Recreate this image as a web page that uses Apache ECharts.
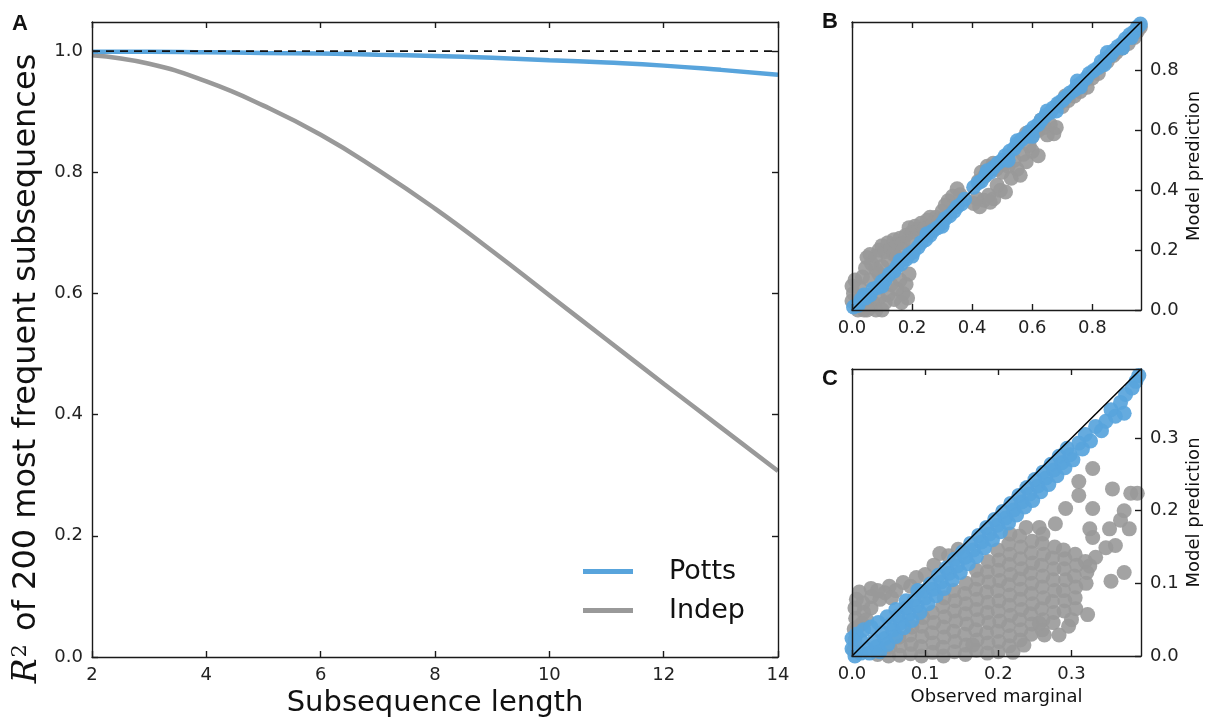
<!DOCTYPE html>
<html><head><meta charset="utf-8">
<script src="https://cdn.jsdelivr.net/npm/echarts@6/dist/echarts.min.js"></script>
<style>html,body{margin:0;padding:0;background:#fff}#c{width:1207px;height:718px}</style>
</head><body><div id="c"></div>
<script>
// ---------- Panel A ----------
const lengths = [2,3,4,5,6,7,8,9,10,11,12,13,14];
const potts = [0.999,0.999,0.998,0.997,0.996,0.994,0.992,0.989,0.985,0.981,0.976,0.969,0.961];
const indep = [0.993,0.979,0.950,0.910,0.862,0.804,0.740,0.670,0.597,0.524,0.451,0.379,0.307];
const refLineA = [[2,1.0],[14,1.0]];
const ticksAX = [2,4,6,8,10,12,14];
const ticksAY = [0,0.2,0.4,0.6,0.8,1.0];

// ---------- Panel B ----------
const ticksB = [0,0.2,0.4,0.6,0.8];
const diagB = [[0,0],[0.962,0.962]];
const grayB = [
[0.0,0.03],[0.005,0.055],[0.0,0.08],[0.015,0.015],[0.02,0.0],[0.04,0.0],[0.06,0.008],[0.03,0.045],[0.05,0.02],[0.08,0.0],[0.07,0.025],[0.01,0.1],[0.025,0.075],
[0.035,0.11],[0.045,0.14],[0.05,0.175],[0.06,0.185],[0.065,0.155],[0.08,0.18],[0.09,0.2],[0.08,0.135],[0.1,0.215],[0.11,0.195],[0.12,0.225],[0.13,0.205],[0.14,0.235],[0.15,0.22],[0.16,0.24],[0.12,0.165],[0.1,0.145],[0.17,0.225],[0.18,0.25],[0.19,0.275],[0.2,0.26],[0.21,0.28],[0.22,0.27],[0.23,0.29],[0.25,0.3],[0.26,0.31],[0.28,0.31],[0.3,0.33],[0.06,0.1],[0.14,0.185],[0.17,0.2],[0.2,0.23],[0.24,0.27],[0.09,0.12],[0.15,0.175],[0.27,0.29],
[0.12,0.05],[0.14,0.035],[0.15,0.07],[0.17,0.055],[0.16,0.1],[0.18,0.085],[0.19,0.12],[0.13,0.085],[0.11,0.025],[0.09,0.04],[0.165,0.025],[0.185,0.04],[0.05,0.0],[0.1,0.0],
[0.32,0.365],[0.35,0.405],[0.36,0.385],[0.335,0.38],[0.31,0.35],[0.29,0.3],
[0.405,0.356],[0.416,0.372],[0.439,0.367],[0.455,0.383],[0.472,0.372],[0.494,0.4],[0.511,0.394],[0.483,0.417],[0.425,0.345],[0.46,0.36],
[0.43,0.46],[0.45,0.48],[0.47,0.49],[0.44,0.445],[0.42,0.43],[0.48,0.47],
[0.5,0.46],[0.52,0.48],[0.54,0.5],[0.55,0.47],[0.57,0.52],[0.58,0.495],[0.6,0.53],[0.62,0.515],[0.53,0.44],[0.56,0.45],[0.51,0.49],[0.59,0.55],
[0.6,0.58],[0.62,0.6],[0.64,0.61],[0.66,0.62],[0.672,0.589],[0.65,0.585],[0.68,0.61],[0.63,0.635],[0.58,0.59],[0.61,0.6],
[0.7,0.68],[0.72,0.7],[0.74,0.715],[0.76,0.73],[0.783,0.744],[0.75,0.74],[0.8,0.775],[0.82,0.79],[0.78,0.77],[0.85,0.83],[0.87,0.85],[0.88,0.86],[0.9,0.875],[0.92,0.89],[0.94,0.91],[0.95,0.93],[0.96,0.945],[0.83,0.815],[0.69,0.69],[0.71,0.715]
];
const blueB = [
[0.005,0.01],[0.02,0.015],[0.03,0.035],[0.045,0.04],[0.06,0.05],[0.07,0.07],[0.085,0.075],[0.1,0.095],[0.11,0.1],[0.125,0.12],[0.14,0.13],[0.15,0.145],[0.165,0.155],[0.18,0.17],[0.19,0.185],[0.205,0.195],[0.22,0.21],[0.23,0.225],[0.245,0.235],[0.26,0.25],[0.27,0.265],[0.285,0.275],[0.3,0.29],[0.31,0.305],[0.325,0.315],[0.34,0.33],[0.35,0.345],[0.365,0.355],[0.375,0.37],
[0.1,0.08],[0.2,0.18],[0.3,0.28],[0.04,0.05],[0.16,0.165],[0.25,0.255],
[0.405,0.41],[0.42,0.425],[0.43,0.43],[0.445,0.45],[0.46,0.46],[0.47,0.475],[0.485,0.49],[0.5,0.5],[0.51,0.515],[0.525,0.53],[0.54,0.54],[0.55,0.555],[0.565,0.57],[0.58,0.58],[0.59,0.595],[0.605,0.61],[0.62,0.62],[0.63,0.635],[0.645,0.65],[0.66,0.66],[0.67,0.675],[0.685,0.69],[0.7,0.7],[0.71,0.71],[0.725,0.725],[0.74,0.735],[0.75,0.75],[0.765,0.76],[0.78,0.775],[0.79,0.79],[0.805,0.8],[0.82,0.81],[0.83,0.83],[0.845,0.84],[0.86,0.85],[0.87,0.865],[0.885,0.88],[0.9,0.89],[0.91,0.905],[0.925,0.92],[0.94,0.93],[0.95,0.945],[0.96,0.955],
[0.52,0.5],[0.6,0.58],[0.68,0.665],[0.76,0.745],[0.84,0.82],[0.9,0.875],[0.93,0.91],
[0.55,0.565],[0.65,0.665],[0.75,0.765],[0.85,0.86],[0.45,0.465]
];

// ---------- Panel C ----------
const ticksC = [0,0.1,0.2,0.3];
const diagC = [[0,0],[0.395,0.395]];
const grayC = [
[0.002,0.008],[0.004,0.022],[0.003,0.037],[0.005,0.052],[0.004,0.066],[0.006,0.078],[0.014,0.045],[0.016,0.06],[0.015,0.073],[0.026,0.066],[0.027,0.082],[0.026,0.093],[0.038,0.078],[0.045,0.087],[0.051,0.096],[0.06,0.09],[0.07,0.101],[0.08,0.096],[0.088,0.108],[0.1,0.112],[0.12,0.141],[0.132,0.138],[0.145,0.147],
[0.01,0.088],[0.035,0.09],[0.02,0.05],[0.008,0.04],[0.054,0.08],[0.112,0.125],
[0.035,0.002],
[0.05,0.0],[0.052,0.012],
[0.065,0.001],[0.066,0.014],[0.064,0.026],
[0.08,0.003],[0.081,0.016],[0.079,0.029],[0.082,0.04],
[0.095,0.0],[0.094,0.013],[0.096,0.027],[0.095,0.041],[0.097,0.053],
[0.11,0.005],[0.111,0.018],[0.109,0.032],[0.112,0.046],[0.11,0.06],
[0.125,0.0],[0.124,0.012],[0.126,0.026],[0.125,0.04],[0.127,0.054],[0.124,0.068],[0.126,0.08],
[0.14,0.006],[0.141,0.02],[0.139,0.034],[0.142,0.048],[0.14,0.062],[0.141,0.076],[0.139,0.09],
[0.155,0.002],[0.156,0.015],[0.154,0.03],[0.157,0.044],[0.155,0.058],[0.156,0.072],[0.154,0.086],[0.156,0.1],
[0.17,0.008],[0.171,0.022],[0.169,0.036],[0.172,0.05],[0.17,0.064],[0.171,0.078],[0.169,0.092],[0.172,0.106],[0.17,0.118],
[0.185,0.004],[0.186,0.018],[0.184,0.032],[0.187,0.046],[0.185,0.06],[0.186,0.074],[0.184,0.088],[0.187,0.102],[0.185,0.116],[0.186,0.13],
[0.2,0.006],[0.201,0.02],[0.199,0.034],[0.202,0.048],[0.2,0.062],[0.201,0.076],[0.199,0.09],[0.202,0.104],[0.2,0.118],[0.201,0.132],[0.199,0.146],
[0.215,0.014],[0.216,0.028],[0.214,0.042],[0.217,0.056],[0.215,0.07],[0.216,0.084],[0.214,0.098],[0.217,0.112],[0.215,0.126],[0.216,0.14],[0.214,0.154],[0.216,0.168],
[0.23,0.022],[0.231,0.036],[0.229,0.05],[0.232,0.064],[0.23,0.078],[0.231,0.092],[0.229,0.106],[0.232,0.12],[0.23,0.134],[0.231,0.15],[0.229,0.165],[0.238,0.177],
[0.245,0.03],[0.246,0.044],[0.244,0.058],[0.247,0.072],[0.245,0.086],[0.246,0.1],[0.244,0.114],[0.247,0.128],[0.245,0.142],[0.246,0.158],[0.256,0.177],
[0.26,0.036],[0.261,0.05],[0.259,0.065],[0.262,0.08],[0.26,0.095],[0.261,0.11],[0.259,0.125],[0.262,0.14],[0.26,0.155],[0.261,0.168],
[0.275,0.046],[0.276,0.06],[0.274,0.075],[0.277,0.09],[0.275,0.105],[0.276,0.12],[0.274,0.135],[0.277,0.15],[0.278,0.182],
[0.29,0.062],[0.291,0.076],[0.289,0.09],[0.292,0.105],[0.29,0.12],[0.291,0.134],[0.289,0.146],[0.292,0.203],
[0.305,0.08],[0.306,0.095],[0.304,0.11],[0.307,0.125],[0.305,0.14],
[0.32,0.1],[0.321,0.115],[0.319,0.13],
[0.329,0.258],[0.31,0.24],[0.31,0.221],[0.356,0.23],[0.381,0.224],[0.39,0.224],[0.329,0.203],[0.372,0.2],[0.367,0.187],[0.379,0.175],[0.352,0.175],[0.325,0.175],[0.329,0.163],[0.36,0.152],[0.347,0.149],[0.333,0.136],[0.325,0.124],[0.372,0.115],[0.354,0.103],[0.306,0.065],[0.322,0.057],[0.263,0.029],[0.283,0.029],[0.3,0.05],[0.296,0.041],[0.256,0.045],[0.235,0.015],[0.22,0.005],[0.165,0.015]
];
const blueC = [
[0.0,0.01],[0.0,0.024],[0.006,0.03],[0.012,0.022],[0.016,0.036],[0.026,0.04],[0.036,0.046],[0.048,0.054],[0.06,0.064],[0.074,0.076],[0.09,0.09],
[0.004,0.0],[0.012,0.004],[0.02,0.01],[0.024,0.004],[0.03,0.021],[0.034,0.013],[0.038,0.006],[0.041,0.032],[0.045,0.024],[0.049,0.016],[0.052,0.043],[0.056,0.036],[0.06,0.027],[0.063,0.055],[0.067,0.046],[0.071,0.039],[0.074,0.066],[0.078,0.058],[0.082,0.049],[0.085,0.077],[0.089,0.069],[0.093,0.06],[0.096,0.089],[0.1,0.08],[0.104,0.072],[0.107,0.099],[0.111,0.092],[0.115,0.083],[0.118,0.111],[0.122,0.102],[0.126,0.093],[0.129,0.121],[0.133,0.114],[0.137,0.105],[0.14,0.133],[0.144,0.124],[0.148,0.115],[0.151,0.143],[0.155,0.136],[0.159,0.127],[0.162,0.155],[0.166,0.146],[0.17,0.137],[0.173,0.166],[0.177,0.157],[0.181,0.149],[0.184,0.177],[0.188,0.168],[0.192,0.16],[0.195,0.188],[0.199,0.18],[0.203,0.171],[0.206,0.199],[0.21,0.19],[0.214,0.183],[0.217,0.21],[0.221,0.201],[0.225,0.194],[0.228,0.221],[0.232,0.212],[0.236,0.205],[0.239,0.232],[0.243,0.223],[0.247,0.214],[0.25,0.243],[0.254,0.234],[0.258,0.226],[0.261,0.253],[0.265,0.245],[0.269,0.236],[0.272,0.264],[0.276,0.256],[0.28,0.248],[0.283,0.275],[0.287,0.266],[0.291,0.259],[0.294,0.286],[0.298,0.277],[0.302,0.27],
[0.31,0.293],[0.315,0.285],[0.319,0.305],[0.326,0.296],[0.333,0.316],[0.341,0.31],[0.347,0.323],[0.354,0.339],[0.36,0.33],[0.367,0.349],[0.372,0.334],[0.374,0.36],[0.383,0.369],[0.388,0.378],[0.392,0.386]
];

const FONT = 'DejaVu Sans';
const BLUE = '#58a4dc';
const GRAY = '#999999';
const AX = {color:'#1a1a1a', width:1.4};
const DOT = 15;

function xAx(grid, min, max, ticks, pos, showLabel, extra) {
  return Object.assign({
    gridIndex: grid, type:'value', min:min, max:max, position:pos, z:10,
    axisLine:{show:true, onZero:false, lineStyle:AX},
    axisTick:{show:true, inside:true, length:6, customValues:ticks, lineStyle:AX},
    axisLabel:{show:showLabel, customValues:ticks, fontSize:18, fontFamily:FONT, color:'#222', margin:9,
      formatter: v => (max < 2 ? v.toFixed(1) : String(v))},
    splitLine:{show:false}
  }, extra||{});
}
function yAx(grid, min, max, ticks, pos, showLabel, showTick, extra) {
  return Object.assign({
    gridIndex: grid, type:'value', min:min, max:max, position:pos, z:10,
    axisLine:{show:true, onZero:false, lineStyle:AX},
    axisTick:{show:showTick, inside:true, length:6, customValues:ticks, lineStyle:AX},
    axisLabel:{show:showLabel, customValues:ticks, fontSize:18, fontFamily:FONT, color:'#222', margin:9,
      formatter: v => v.toFixed(1)},
    splitLine:{show:false}
  }, extra||{});
}

const option = {
  animation:false,
  backgroundColor:'#fff',
  grid:[
    {left:92, top:22, width:686, height:635, outerBoundsMode:'none'},
    {left:852, top:22, width:289, height:288, outerBoundsMode:'none'},
    {left:852, top:369, width:289, height:287, outerBoundsMode:'none'}
  ],
  xAxis:[
    xAx(0, 2, 14, ticksAX, 'bottom', true, {name:'Subsequence length', nameLocation:'middle', nameGap:30,
      nameTextStyle:{fontSize:29, fontFamily:FONT, color:'#111'}}),
    xAx(0, 2, 14, ticksAX, 'top', false),
    xAx(1, 0, 0.962, ticksB, 'bottom', true),
    xAx(1, 0, 0.962, ticksB, 'top', false),
    xAx(2, 0, 0.395, ticksC, 'bottom', true, {name:'Observed marginal', nameLocation:'middle', nameGap:32,
      nameTextStyle:{fontSize:18, fontFamily:FONT, color:'#111'}}),
    xAx(2, 0, 0.395, ticksC, 'top', false)
  ],
  yAxis:[
    yAx(0, 0, 1.048, ticksAY, 'left', true, true, {name:'{r|R}{s|2} of 200 most frequent subsequences', nameLocation:'middle', nameRotate:90, nameGap:48,
      nameTextStyle:{fontSize:32, fontFamily:FONT, color:'#111', padding:[0,58,0,0],
        rich:{r:{fontSize:33, fontFamily:'DejaVu Serif', fontStyle:'italic', color:'#111'},
              s:{fontSize:21, fontFamily:'DejaVu Serif', color:'#111', verticalAlign:'top', padding:[0,3,0,1]}}}}),
    yAx(0, 0, 1.048, ticksAY, 'right', false, true),
    yAx(1, 0, 0.962, ticksB, 'right', true, true, {name:'Model prediction', nameLocation:'middle', nameRotate:90, nameGap:44,
      nameTextStyle:{fontSize:18, fontFamily:FONT, color:'#111'}}),
    yAx(1, 0, 0.962, ticksB, 'left', false, false),
    yAx(2, 0, 0.395, ticksC, 'right', true, true, {name:'Model prediction', nameLocation:'middle', nameRotate:90, nameGap:44,
      nameTextStyle:{fontSize:18, fontFamily:FONT, color:'#111'}}),
    yAx(2, 0, 0.395, ticksC, 'left', false, false)
  ],
  legend:{
    data:['Potts','Indep'], orient:'vertical', left:578, top:553,
    icon:'rect', itemWidth:50, itemHeight:5, itemGap:12,
    textStyle:{fontSize:27, fontFamily:FONT, color:'#111', padding:[0,0,0,31]}
  },
  graphic:[
    {type:'text', left:12, top:13, style:{text:'A', font:'bold 22px "Liberation Sans"', fill:'#111'}},
    {type:'text', left:822, top:11, style:{text:'B', font:'bold 22px "Liberation Sans"', fill:'#111'}},
    {type:'text', left:822, top:368, style:{text:'C', font:'bold 22px "Liberation Sans"', fill:'#111'}}
  ],
  series:[
    {name:'Indep', type:'line', xAxisIndex:0, yAxisIndex:0, color:GRAY, smooth:true, showSymbol:false,
      lineStyle:{width:4.5, color:GRAY}, data: lengths.map((x,i)=>[x, indep[i]])},
    {name:'Potts', type:'line', xAxisIndex:0, yAxisIndex:0, color:BLUE, smooth:true, showSymbol:false,
      lineStyle:{width:4.5, color:BLUE}, data: lengths.map((x,i)=>[x, potts[i]])},
    {name:'ref', type:'line', xAxisIndex:0, yAxisIndex:0, showSymbol:false, silent:true,
      lineStyle:{width:1.6, color:'#111', type:[8,6]}, data: refLineA},
    {name:'IndepB', type:'scatter', xAxisIndex:2, yAxisIndex:2, symbolSize:DOT,
      itemStyle:{color:GRAY, opacity:0.9}, data:grayB},
    {name:'PottsB', type:'scatter', xAxisIndex:2, yAxisIndex:2, symbolSize:DOT,
      itemStyle:{color:BLUE, opacity:0.92}, data:blueB},
    {name:'diagB', type:'line', xAxisIndex:2, yAxisIndex:2, showSymbol:false, silent:true,
      lineStyle:{width:1.5, color:'#000'}, data:diagB},
    {name:'IndepC', type:'scatter', xAxisIndex:4, yAxisIndex:4, symbolSize:DOT,
      itemStyle:{color:GRAY, opacity:0.9}, data:grayC},
    {name:'PottsC', type:'scatter', xAxisIndex:4, yAxisIndex:4, symbolSize:DOT,
      itemStyle:{color:BLUE, opacity:0.92}, data:blueC},
    {name:'diagC', type:'line', xAxisIndex:4, yAxisIndex:4, showSymbol:false, silent:true,
      lineStyle:{width:1.5, color:'#000'}, data:diagC}
  ]
};
const chart = echarts.init(document.getElementById('c'), null, {renderer:'canvas'});
chart.setOption(option);
</script></body></html>
